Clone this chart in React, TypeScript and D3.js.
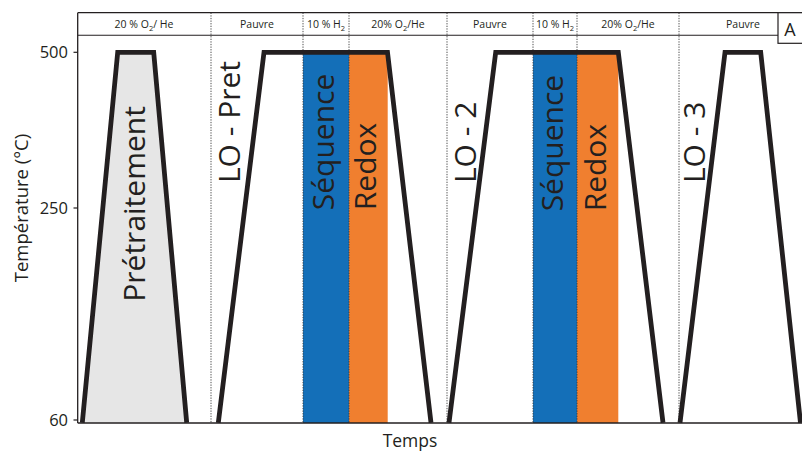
import React from "react";
import * as d3 from "d3";

const W = 802;
const H = 452;

// Y axis ticks (°C)
const yTickValues = [60, 250, 500];
const yTickLabels = ["60", "250", "500"];

// Temperature profiles (trapezoids), time in arbitrary units
const profileNames = ["Prétraitement", "LO - Pret", "LO - 2", "LO - 3"];
const rampStartTime = [4.3, 140.3, 371, 602];
const plateauStartTime = [39.7, 186, 417.7, 647];
const plateauEndTime = [75.7, 309.5, 540.3, 682.7];
const rampEndTime = [108.7, 353, 585, 722.5];
const plateauTemp = [500, 500, 500, 500];
const startTemp = 57.5;

// Profile label anchors (data coordinates: time, temperature)
const profileLabelTime = [66.5, 161.5, 397.5, 627];
const profileLabelTemp = [166, 290, 290, 290];

// Gas atmosphere segments (header row)
const gasBounds = [-1, 133, 225, 271, 369, 455, 499, 601, 729];
const gasPre = ["20 % O", "Pauvre", "10 % H", "20% O", "Pauvre", "10 % H", "20% O", "Pauvre"];
const gasSub = ["2", "", "2", "2", "", "2", "2", ""];
const gasPost = ["/ He", "", "", "/He", "", "", "/He", ""];
const dividerTimes = [133, 225, 271, 369, 455, 499, 601];

// Coloured sequences
const bandNames = ["Séquence", "Redox", "Séquence", "Redox"];
const bandStart = [225, 271, 455, 499];
const bandEnd = [271, 309.7, 499, 540.3];
const bandColors = ["#146fb8", "#f07f2f", "#146fb8", "#f07f2f"];
const bandLabelTemp = [248, 248, 247, 247];

const DARK = "#231f20";
const FONT = "'Open Sans', 'Noto Sans', sans-serif";

export default function App() {
  const left = 77.7;
  const right = 802;
  const top = 12.7;
  const headerBottom = 35.3;
  const bottom = 423;

  const x = d3.scaleLinear().domain([0, 724]).range([78, 802]);
  const y = d3.scaleLinear().domain([60, 250, 500]).range([420, 208, 52.3]);

  const line = d3
    .line<[number, number]>()
    .x((d) => x(d[0]))
    .y((d) => y(d[1]));

  const profiles = profileNames.map((name, i) => {
    const pts: [number, number][] = [
      [rampStartTime[i], startTemp],
      [plateauStartTime[i], plateauTemp[i]],
      [plateauEndTime[i], plateauTemp[i]],
      [rampEndTime[i], startTemp],
    ];
    return { name, pts };
  });

  return (
    <svg width={W} height={H} style={{ display: "block", position: "absolute", left: 0, top: 0 }}>
      <rect x={0} y={0} width={W} height={H} fill="#fff" />
      <defs>
        <clipPath id="plotClip">
          <rect x={left} y={headerBottom} width={right - left + 2} height={bottom - headerBottom} />
        </clipPath>
      </defs>

      <g clipPath="url(#plotClip)">
        <path d={line(profiles[0].pts) + "Z"} fill="#e6e6e6" stroke="none" />
        {bandNames.map((n, i) => (
          <rect
            key={"b" + i}
            x={x(bandStart[i])}
            y={y(500)}
            width={x(bandEnd[i]) - x(bandStart[i])}
            height={bottom - y(500)}
            fill={bandColors[i]}
          />
        ))}
      </g>

      {dividerTimes.map((t, i) => (
        <line
          key={"d" + i}
          x1={x(t)}
          x2={x(t)}
          y1={top}
          y2={bottom}
          stroke="#3a3a3a"
          strokeWidth={0.9}
          strokeDasharray="1.3 1.3"
        />
      ))}

      <g clipPath="url(#plotClip)">
        {profiles.map((p, i) => (
          <path
            key={"p" + i}
            d={line(p.pts) || ""}
            fill="none"
            stroke={DARK}
            strokeWidth={4.8}
            strokeLinejoin="miter"
          />
        ))}
      </g>

      {profileNames.map((n, i) => (
        <text
          key={"pl" + i}
          transform={`translate(${x(profileLabelTime[i])},${y(profileLabelTemp[i])}) rotate(-90)`}
          fontFamily={FONT}
          fontSize={30}
          fill={DARK}
          textAnchor="start"
        >
          {n}
        </text>
      ))}

      {bandNames.map((n, i) => {
        const cx = (x(bandStart[i]) + x(bandEnd[i])) / 2;
        return (
          <text
            key={"bl" + i}
            transform={`translate(${cx + 8},${y(bandLabelTemp[i])}) rotate(-90)`}
            fontFamily={FONT}
            fontSize={30}
            fill={DARK}
            textAnchor="start"
          >
            {n}
          </text>
        );
      })}

      <line x1={left} x2={right} y1={top} y2={top} stroke={DARK} strokeWidth={1.3} />
      <line x1={left} x2={right} y1={headerBottom} y2={headerBottom} stroke={DARK} strokeWidth={1.1} />
      <line x1={left} x2={left} y1={top} y2={bottom} stroke={DARK} strokeWidth={1.3} />
      <line x1={left} x2={right} y1={bottom} y2={bottom} stroke={DARK} strokeWidth={1.5} />

      {gasPre.map((g, i) => {
        const cx = (x(gasBounds[i]) + x(gasBounds[i + 1])) / 2;
        return (
          <text
            key={"g" + i}
            x={cx}
            y={28}
            textAnchor="middle"
            fontFamily={FONT}
            fontSize={10.5}
            fill={DARK}
          >
            {g}
            {gasSub[i] ? (
              <tspan fontSize={7.5} dy={3}>
                {gasSub[i]}
              </tspan>
            ) : null}
            {gasPost[i] ? <tspan dy={gasSub[i] ? -3 : 0}>{gasPost[i]}</tspan> : null}
          </text>
        );
      })}

      <rect x={778} y={top} width={30} height={30.6} fill="#fff" stroke={DARK} strokeWidth={1.2} />
      <text x={790} y={36} textAnchor="middle" fontFamily={FONT} fontSize={18} fill={DARK}>
        A
      </text>

      {yTickValues.map((v, i) => (
        <g key={"t" + i}>
          <line x1={73.5} x2={left} y1={y(v)} y2={y(v)} stroke={DARK} strokeWidth={1.2} />
          <text
            x={68}
            y={y(v)}
            dy="0.35em"
            textAnchor="end"
            fontFamily={FONT}
            fontSize={16.5}
            fill={DARK}
          >
            {yTickLabels[i]}
          </text>
        </g>
      ))}

      <text
        transform={`translate(27.5,208) rotate(-90)`}
        textAnchor="middle"
        fontFamily={FONT}
        fontSize={18.5}
        fill={DARK}
      >
        Température (°C)
      </text>
      <text x={410} y={447} textAnchor="middle" fontFamily={FONT} fontSize={17.5} fill={DARK}>
        Temps
      </text>
    </svg>
  );
}
